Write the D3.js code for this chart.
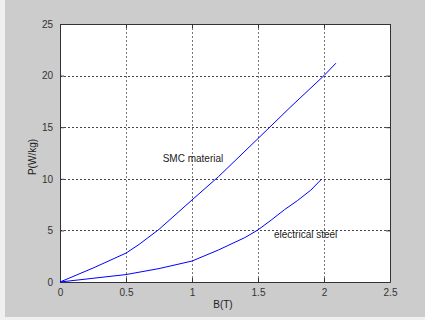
<!DOCTYPE html>
<html>
<head>
<meta charset="utf-8">
<script src="https://cdn.jsdelivr.net/npm/d3@7"></script>
<style>
  body { margin: 0; background: #f0f0f0; }
  svg { display: block; }
</style>
</head>
<body>
<div id="chart"></div>
<script>
// data
const smcB = [0, 0.25, 0.5, 0.6, 0.75, 1.0, 1.2, 1.5, 1.75, 2.0, 2.09];
const smcP = [0, 1.35, 2.8, 3.65, 5.1, 7.95, 10.2, 13.9, 17.0, 20.0, 21.2];
const steelB = [0, 0.5, 0.75, 1.0, 1.2, 1.4, 1.5, 1.6, 1.7, 1.8, 1.9, 1.98];
const steelP = [0, 0.72, 1.3, 2.03, 3.1, 4.3, 5.05, 6.0, 7.0, 7.9, 8.9, 9.95];
const xTicks = [0, 0.5, 1, 1.5, 2, 2.5];
const yTicks = [0, 5, 10, 15, 20, 25];
const notes = [
    { text: 'SMC material', b: 0.778, p: 11.6 },
    { text: 'electrical steel', b: 1.621, p: 4.26 }
];

const width = 425, height = 320;
const plot = { left: 60, top: 24, right: 390, bottom: 282 };
const font = 'Arial, "Liberation Sans", sans-serif';

const svg = d3.select('#chart').append('svg')
    .attr('width', width)
    .attr('height', height);

// figure background (light strip left and bottom)
svg.append('rect')
    .attr('x', 5).attr('y', 0)
    .attr('width', width - 5).attr('height', 317)
    .attr('fill', '#cccccc');

const xScale = d3.scaleLinear().domain([0, 2.5]).range([plot.left, plot.right]);
const yScale = d3.scaleLinear().domain([0, 25]).range([plot.bottom, plot.top]);

svg.append('rect')
    .attr('x', plot.left).attr('y', plot.top)
    .attr('width', plot.right - plot.left)
    .attr('height', plot.bottom - plot.top)
    .attr('fill', '#ffffff');

// dotted grid
const grid = svg.append('g').attr('class', 'grid');
grid.selectAll('line.gx')
    .data(xTicks.slice(1, -1))
    .join('line')
    .attr('class', 'gx')
    .attr('x1', d => Math.round(xScale(d)) + 0.5)
    .attr('x2', d => Math.round(xScale(d)) + 0.5)
    .attr('y1', plot.top).attr('y2', plot.bottom)
    .attr('stroke', '#777')
    .attr('stroke-dasharray', '2,2');
grid.selectAll('line.gy')
    .data(yTicks.slice(1, -1))
    .join('line')
    .attr('class', 'gy')
    .attr('y1', d => Math.round(yScale(d)) + 0.5)
    .attr('y2', d => Math.round(yScale(d)) + 0.5)
    .attr('x1', plot.left).attr('x2', plot.right)
    .attr('stroke', '#444')
    .attr('stroke-dasharray', '2,2');

// axes with inward ticks on all four sides
const axisStyle = g => {
    g.selectAll('.domain').attr('stroke', '#333');
    g.selectAll('.tick line').attr('stroke', '#333');
    g.selectAll('text')
        .attr('fill', '#333')
        .style('font-family', font)
        .style('font-size', '10px');
};
svg.append('g')
    .attr('transform', `translate(0,${plot.bottom})`)
    .call(d3.axisBottom(xScale).tickValues(xTicks).tickSizeInner(-4).tickSizeOuter(0).tickPadding(7).tickFormat(d3.format('')))
    .call(axisStyle);
svg.append('g')
    .attr('transform', `translate(0,${plot.top})`)
    .call(d3.axisTop(xScale).tickValues(xTicks).tickSizeInner(-4).tickSizeOuter(0).tickFormat(''))
    .call(axisStyle);
svg.append('g')
    .attr('transform', `translate(${plot.left},0)`)
    .call(d3.axisLeft(yScale).tickValues(yTicks).tickSizeInner(-4).tickSizeOuter(0).tickPadding(7))
    .call(axisStyle);
svg.append('g')
    .attr('transform', `translate(${plot.right},0)`)
    .call(d3.axisRight(yScale).tickValues(yTicks).tickSizeInner(-4).tickSizeOuter(0).tickFormat(''))
    .call(axisStyle);

// curves
const line = d3.line()
    .x(d => xScale(d[0]))
    .y(d => yScale(d[1]));
const series = [
    d3.zip(smcB, smcP),
    d3.zip(steelB, steelP)
];
svg.append('g').selectAll('path')
    .data(series)
    .join('path')
    .attr('d', line)
    .attr('fill', 'none')
    .attr('stroke', '#0000ff')
    .attr('stroke-width', 1);

// annotations
svg.append('g').selectAll('text')
    .data(notes)
    .join('text')
    .attr('x', d => xScale(d.b))
    .attr('y', d => yScale(d.p))
    .attr('fill', '#222')
    .style('font-family', font)
    .style('font-size', '10px')
    .text(d => d.text);

// axis titles
svg.append('text')
    .attr('x', 223).attr('y', 308)
    .attr('text-anchor', 'middle')
    .attr('fill', '#222')
    .style('font-family', font)
    .style('font-size', '10px')
    .text('B(T)');
svg.append('text')
    .attr('transform', 'translate(36,157) rotate(-90)')
    .attr('text-anchor', 'middle')
    .attr('fill', '#222')
    .style('font-family', font)
    .style('font-size', '10px')
    .text('P(W/kg)');
</script>
</body>
</html>
